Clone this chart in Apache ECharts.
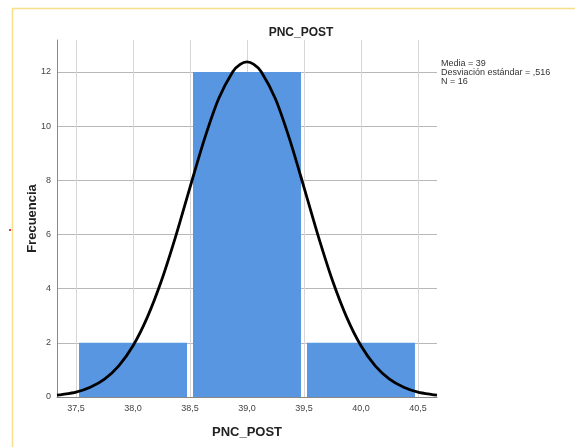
<!DOCTYPE html>
<html>
<head>
<meta charset="utf-8">
<script src="https://cdn.jsdelivr.net/npm/echarts@6/dist/echarts.min.js"></script>
<style>
  html, body { margin: 0; padding: 0; background: #fff; }
  #chart { width: 575px; height: 447px; }
</style>
</head>
<body>
<div id="chart"></div>
<script>
// histograma PNC_POST
const binEdges = [37.5, 38.5, 39.5, 40.5]
const binCounts = [2, 12, 2]
const xTicks = [37.5, 38.0, 38.5, 39.0, 39.5, 40.0, 40.5]
const yTicks = [0, 2, 4, 6, 8, 10, 12]
// curva normal
const curveX = [37.333, 37.375, 37.5, 37.625, 37.75, 37.875, 38.0, 38.125, 38.25, 38.375, 38.5, 38.625, 38.75, 38.875,
  38.94, 39.0, 39.06,
  39.125, 39.25, 39.375, 39.5, 39.625, 39.75, 39.875, 40.0, 40.125, 40.25, 40.375, 40.5, 40.625, 40.667]
const curveY = [0.07, 0.09, 0.18, 0.36, 0.66, 1.15, 1.89, 2.94, 4.30, 5.94, 7.74, 9.50, 11.0, 12.01,
  12.28, 12.37, 12.28,
  12.01, 11.0, 9.50, 7.74, 5.94, 4.30, 2.94, 1.89, 1.15, 0.66, 0.36, 0.18, 0.09, 0.07]
const statsText = ['Media = 39', 'Desviación estándar = ,516', 'N = 16']

const FONT = '"Liberation Sans Narrow", "Liberation Sans", Arial, sans-serif'

const bins = binCounts.map((c, i) => [binEdges[i], binEdges[i + 1], c])
const curve = curveX.map((x, i) => [x, curveY[i]])

const chart = echarts.init(document.getElementById('chart'), null, {renderer: 'canvas'})

chart.setOption({
  animation: false,
  title: {
    text: 'PNC_POST',
    left: 296,
    top: 22,
    textAlign: 'center',
    textStyle: {fontFamily: FONT, fontSize: 12, fontWeight: 'bold', color: '#222'},
  },
  grid: {left: 57, right: 138, top: 40, bottom: 50, containLabel: false},
  xAxis: {
    type: 'value',
    min: 37.333,
    max: 40.667,
    name: 'PNC_POST',
    nameLocation: 'middle',
    nameGap: 29,
    nameTextStyle: {fontFamily: FONT, fontSize: 13, fontWeight: 'bold', color: '#222'},
    axisLine: {show: true, lineStyle: {color: '#888', width: 1}},
    axisTick: {show: false, customValues: xTicks},
    axisLabel: {
      customValues: xTicks,
      fontFamily: FONT,
      fontSize: 9,
      color: '#444',
      margin: 7,
      formatter: (v) => v.toFixed(1).replace('.', ','),
    },
    splitLine: {show: true, lineStyle: {color: '#d6d6d6', width: 1}},
  },
  yAxis: {
    type: 'value',
    min: 0,
    max: 13.18,
    name: 'Frecuencia',
    nameLocation: 'middle',
    nameGap: 18,
    nameMoveOverlap: false,
    nameTextStyle: {fontFamily: FONT, fontSize: 13, fontWeight: 'bold', color: '#222'},
    axisLine: {show: true, lineStyle: {color: '#888', width: 1}},
    axisTick: {show: false, customValues: yTicks},
    axisLabel: {customValues: yTicks, fontFamily: FONT, fontSize: 9, color: '#444', margin: 6},
    splitLine: {show: true, lineStyle: {color: '#b8b8b8', width: 1}},
  },
  series: [
    {
      type: 'custom',
      data: bins,
      renderItem(params, api) {
        const p0 = api.coord([api.value(0), api.value(2)])
        const p1 = api.coord([api.value(1), 0])
        return {
          type: 'rect',
          shape: {x: p0[0] + 3, y: p0[1], width: p1[0] - p0[0] - 6, height: p1[1] - p0[1]},
          style: {fill: '#5896e2'},
        }
      },
      z: 2,
    },
    {
      type: 'line',
      data: curve,
      smooth: 0.25,
      showSymbol: false,
      clip: false,
      lineStyle: {color: '#000', width: 2.8},
      z: 3,
    },
  ],
  graphic: [
    {
      type: 'rect',
      silent: true,
      shape: {x: 12.5, y: 8.5, width: 700, height: 600},
      style: {fill: 'none', stroke: '#f8df8c', lineWidth: 1.5},
    },
    {
      type: 'rect',
      silent: true,
      shape: {x: 9, y: 229, width: 2, height: 2},
      style: {fill: '#e33'},
    },
    {
      type: 'text',
      left: 441,
      top: 59,
      style: {
        text: statsText.join('\n'),
        fontFamily: FONT,
        fontSize: 9,
        lineHeight: 9,
        fill: '#333',
      },
    },
  ],
})
</script>
</body>
</html>
